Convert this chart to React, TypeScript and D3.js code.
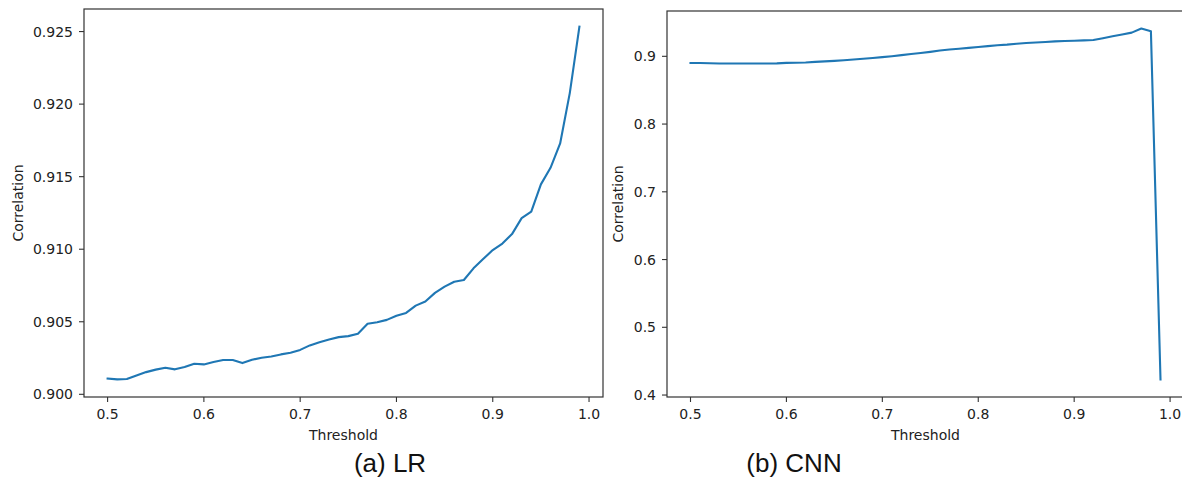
import React from "react";
import * as d3 from "d3";

const thresholds = [
  0.5, 0.51, 0.52, 0.53, 0.54, 0.55, 0.56, 0.57, 0.58, 0.59,
  0.6, 0.61, 0.62, 0.63, 0.64, 0.65, 0.66, 0.67, 0.68, 0.69,
  0.7, 0.71, 0.72, 0.73, 0.74, 0.75, 0.76, 0.77, 0.78, 0.79,
  0.8, 0.81, 0.82, 0.83, 0.84, 0.85, 0.86, 0.87, 0.88, 0.89,
  0.9, 0.91, 0.92, 0.93, 0.94, 0.95, 0.96, 0.97, 0.98, 0.99,
];

const lrCorrelation = [
  0.90108, 0.90103, 0.90105, 0.9013, 0.90153, 0.9017, 0.90183, 0.90172, 0.90188, 0.90211,
  0.90206, 0.90222, 0.90236, 0.90236, 0.90215, 0.90238, 0.90252, 0.90261, 0.90275, 0.90286,
  0.90306, 0.90337, 0.90359, 0.90378, 0.90394, 0.90401, 0.90417, 0.90486, 0.90497, 0.90513,
  0.90541, 0.90561, 0.90611, 0.90639, 0.90699, 0.90742, 0.90776, 0.90788, 0.90868, 0.90932,
  0.90994, 0.91039, 0.91104, 0.91214, 0.91259, 0.91447, 0.91561, 0.91729, 0.92076, 0.92534,
];

const cnnCorrelation = [
  0.8902, 0.8901, 0.8897, 0.8895, 0.8893, 0.8893, 0.8894, 0.8894, 0.8895, 0.8896,
  0.8903, 0.8905, 0.8908, 0.8918, 0.8925, 0.8933, 0.8942, 0.8952, 0.8963, 0.8975,
  0.8988, 0.9002, 0.9018, 0.9034, 0.905, 0.9066, 0.9085, 0.91, 0.9112, 0.9125,
  0.9138, 0.915, 0.9163, 0.9172, 0.9185, 0.9196, 0.9205, 0.9212, 0.922, 0.9226,
  0.923, 0.9235, 0.924, 0.9268, 0.9295, 0.9322, 0.935, 0.941, 0.937, 0.423,
];

const xTicks = [0.5, 0.6, 0.7, 0.8, 0.9, 1.0];
const lrYTicks = [0.9, 0.905, 0.91, 0.915, 0.92, 0.925];
const cnnYTicks = [0.4, 0.5, 0.6, 0.7, 0.8, 0.9];

const xLabel = "Threshold";
const yLabel = "Correlation";
const captions = ["(a) LR", "(b) CNN"];

const FONT = "'DejaVu Sans', sans-serif";
const TEXT = "#222";
const SPINE = "#333";
const LINE = "#1f77b4";

function padded(values: number[]): [number, number] {
  const [lo, hi] = d3.extent(values) as [number, number];
  const m = (hi - lo) * 0.05;
  return [lo - m, hi + m];
}

type PanelProps = {
  left: number;
  right: number;
  top: number;
  bottom: number;
  values: number[];
  yTicks: number[];
  yFmt: string;
  yLabelX: number;
};

function Panel({ left, right, top, bottom, values, yTicks, yFmt, yLabelX }: PanelProps) {
  const x = d3.scaleLinear().domain(padded(thresholds)).range([left, right]);
  const y = d3.scaleLinear().domain(padded(values)).range([bottom, top]);
  const line = d3
    .line<number>()
    .x((_, i) => x(thresholds[i]))
    .y((d) => y(d));
  const fmt = d3.format(yFmt);
  const xf = d3.format(".1f");
  return (
    <g>
      <path d={line(values) || ""} fill="none" stroke={LINE} strokeWidth={2.1} strokeLinejoin="round" strokeLinecap="square" />
      <rect x={left} y={top} width={right - left} height={bottom - top} fill="none" stroke={SPINE} strokeWidth={1.2} />
      {xTicks.map((t) => (
        <g key={"x" + t}>
          <line x1={x(t)} x2={x(t)} y1={bottom} y2={bottom + 5} stroke={SPINE} strokeWidth={1.1} />
          <text x={x(t)} y={bottom + 22} textAnchor="middle" fontSize={14} fontFamily={FONT} fill={TEXT}>
            {xf(t)}
          </text>
        </g>
      ))}
      {yTicks.map((t) => (
        <g key={"y" + t}>
          <line x1={left - 5} x2={left} y1={y(t)} y2={y(t)} stroke={SPINE} strokeWidth={1.1} />
          <text x={left - 11} y={y(t)} dy="0.36em" textAnchor="end" fontSize={14} fontFamily={FONT} fill={TEXT}>
            {fmt(t)}
          </text>
        </g>
      ))}
      <text x={(left + right) / 2} y={bottom + 43} textAnchor="middle" fontSize={14} fontFamily={FONT} fill={TEXT}>
        {xLabel}
      </text>
      <text
        transform={`translate(${yLabelX},${(top + bottom) / 2}) rotate(-90)`}
        textAnchor="middle"
        fontSize={14}
        fontFamily={FONT}
        fill={TEXT}
      >
        {yLabel}
      </text>
    </g>
  );
}

export default function App() {
  return (
    <svg
      width={1182}
      height={481}
      style={{ position: "absolute", left: 0, top: 0, background: "#fff" }}
    >
      <rect x={0} y={0} width={1182} height={481} fill="#fff" />
      <Panel left={84} right={603} top={9} bottom={397} values={lrCorrelation} yTicks={lrYTicks} yFmt=".3f" yLabelX={23} />
      <Panel left={667} right={1184} top={11} bottom={397} values={cnnCorrelation} yTicks={cnnYTicks} yFmt=".1f" yLabelX={623} />
      <text x={390} y={472} textAnchor="middle" fontSize={26} fontFamily="'Liberation Sans', Arial, sans-serif" fill="#111">
        {captions[0]}
      </text>
      <text x={794} y={472} textAnchor="middle" fontSize={26} fontFamily="'Liberation Sans', Arial, sans-serif" fill="#111">
        {captions[1]}
      </text>
    </svg>
  );
}
